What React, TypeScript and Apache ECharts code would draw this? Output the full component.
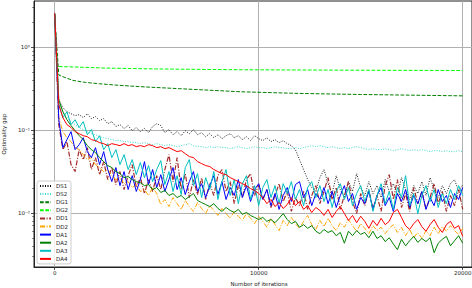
import React, { useEffect, useRef } from "react";
import * as echarts from "echarts";

// Sampling grid (iterations) for the recorded runs: every 200 iterations, 0..20000
const ITERS: number[] = Array.from({ length: 101 }, (_, i) => i * 200);

const DS1 = [
  2.5, 0.232, 0.186, 0.166, 0.157, 0.149,
  0.153, 0.141, 0.157, 0.137, 0.145,
  0.130, 0.137, 0.119, 0.126, 0.110,
  0.116, 0.104, 0.113, 0.098, 0.107,
  0.0955, 0.104, 0.0928, 0.110, 0.119,
  0.113, 0.0928, 0.101, 0.0877, 0.0955,
  0.0853, 0.098, 0.0902, 0.101, 0.0877,
  0.0928, 0.083, 0.0902, 0.0807, 0.0877,
  0.0785, 0.0853, 0.0902, 0.0807, 0.0853,
  0.0764, 0.083, 0.0743, 0.0853, 0.0785,
  0.0743, 0.0807, 0.0723, 0.0764, 0.0703,
  0.0743, 0.0684, 0.0647, 0.0579, 0.0439,
  0.0333, 0.0252, 0.0202, 0.0181, 0.0266,
  0.0333, 0.0225, 0.0171, 0.0281, 0.0191,
  0.0153, 0.0238, 0.0181, 0.0297, 0.0202,
  0.0162, 0.0238, 0.0171, 0.0213, 0.0153,
  0.0252, 0.0181, 0.0225, 0.0162, 0.0266,
  0.0191, 0.0145, 0.0213, 0.0171, 0.0238,
  0.0162, 0.0266, 0.0191, 0.0153, 0.0213,
  0.0171, 0.0225, 0.0252, 0.0181, 0.0219,
];

const DS2 = [
  2.5, 0.219, 0.166, 0.141, 0.126, 0.116,
  0.107, 0.101, 0.0955, 0.0902, 0.0877,
  0.083, 0.0807, 0.0785, 0.0764, 0.0743,
  0.0743, 0.0723, 0.0723, 0.0703, 0.0703,
  0.0684, 0.0703, 0.0684, 0.0665, 0.0684,
  0.0665, 0.0647, 0.0665, 0.0647, 0.0629,
  0.0647, 0.0665, 0.0684, 0.0647, 0.0629,
  0.0629, 0.0612, 0.0629, 0.0612, 0.0629,
  0.0612, 0.0612, 0.0595, 0.0612, 0.0629,
  0.0612, 0.0595, 0.0612, 0.0629, 0.0612,
  0.0612, 0.0595, 0.0612, 0.0629, 0.0612,
  0.0612, 0.0595, 0.0595, 0.0612, 0.0595,
  0.0612, 0.0629, 0.0647, 0.0629, 0.0647,
  0.0629, 0.0612, 0.0629, 0.0612, 0.0595,
  0.0612, 0.0595, 0.0612, 0.0629, 0.0612,
  0.0595, 0.0579, 0.0595, 0.0579, 0.0579,
  0.0595, 0.0579, 0.0563, 0.0579, 0.0595,
  0.0579, 0.0563, 0.0579, 0.0563, 0.0579,
  0.0563, 0.0548, 0.0563, 0.0563, 0.0548,
  0.0563, 0.0548, 0.0548, 0.0563, 0.0548,
];

const DG1_ITERS = [0, 200, 500, 900, 1500, 2200, 3000, 4200, 6100, 9100, 12000, 15000, 20000];
const DG1 = [2.4, 0.46, 0.43, 0.396, 0.375, 0.361, 0.348, 0.333, 0.315, 0.289, 0.276, 0.268, 0.258];

const DG2_ITERS = [0, 100, 500, 1000, 2500, 5000, 9000, 14000, 20000];
const DG2 = [2.4, 0.585, 0.58, 0.575, 0.558, 0.545, 0.533, 0.527, 0.522];

const DD1 = [
  2.6, 0.116, 0.0579, 0.0723, 0.0382, 0.0315,
  0.0579, 0.0439, 0.0612, 0.0333, 0.0464,
  0.0289, 0.0415, 0.0252, 0.0352, 0.0219,
  0.0315, 0.0191, 0.0281, 0.0382, 0.0202,
  0.0266, 0.0171, 0.0252, 0.0181, 0.0281,
  0.0191, 0.0333, 0.0504, 0.0238, 0.0464,
  0.0191, 0.0297, 0.0153, 0.0252, 0.0166,
  0.0266, 0.0145, 0.0225, 0.0162, 0.0281,
  0.0333, 0.0181, 0.0238, 0.0129, 0.0213,
  0.0153, 0.0252, 0.0297, 0.0162, 0.0219,
  0.0145, 0.0191, 0.0116, 0.0162, 0.0225,
  0.0137, 0.0181, 0.0104, 0.0153, 0.0122,
  0.0181, 0.0110, 0.0162, 0.0213, 0.0129,
  0.0181, 0.0266, 0.0145, 0.0202, 0.0110,
  0.0162, 0.0238, 0.0137, 0.0098, 0.0171,
  0.0122, 0.0191, 0.0110, 0.0162, 0.0104,
  0.0213, 0.0289, 0.0145, 0.0252, 0.0116,
  0.0171, 0.0104, 0.0202, 0.0129, 0.0181,
  0.0110, 0.0153, 0.0225, 0.0129, 0.0181,
  0.0104, 0.0162, 0.0122, 0.0191, 0.0110,
];

const DD2 = [
  2.5, 0.141, 0.0955, 0.0807, 0.0723, 0.0612,
  0.0579, 0.0504, 0.0439, 0.0464, 0.0382,
  0.0352, 0.0315, 0.0333, 0.0281, 0.0252,
  0.0266, 0.0225, 0.0238, 0.0202, 0.0219,
  0.0181, 0.0191, 0.0162, 0.0202, 0.0171,
  0.0126, 0.0145, 0.0119, 0.0153, 0.0129,
  0.0110, 0.0141, 0.0119, 0.0104, 0.0133,
  0.0113, 0.0098, 0.0122, 0.0107, 0.0093,
  0.0113, 0.0098, 0.0086, 0.0104, 0.0091,
  0.0081, 0.0098, 0.0086, 0.0074, 0.0091,
  0.0079, 0.0067, 0.0086, 0.0072, 0.0061,
  0.0081, 0.0070, 0.0088, 0.0074, 0.0065,
  0.0079, 0.0093, 0.0072, 0.0063, 0.0081,
  0.0068, 0.0086, 0.0070, 0.0061, 0.0076,
  0.0067, 0.0083, 0.0070, 0.0060, 0.0074,
  0.0065, 0.0056, 0.0070, 0.0061, 0.0067,
  0.0056, 0.0065, 0.0072, 0.0058, 0.0067,
  0.0053, 0.0063, 0.0050, 0.0058, 0.0049,
  0.0061, 0.0053, 0.0067, 0.0056, 0.0068,
  0.0060, 0.0070, 0.0061, 0.0055, 0.0065,
];

const DA1 = [
  2.5, 0.133, 0.0612, 0.0764, 0.0955, 0.0579,
  0.0665, 0.0807, 0.0548, 0.0464, 0.0612,
  0.0382, 0.0548, 0.0333, 0.0238, 0.0352,
  0.0213, 0.0315, 0.0191, 0.0281, 0.0181,
  0.0252, 0.0415, 0.0219, 0.0333, 0.0202,
  0.0289, 0.0181, 0.0252, 0.0352, 0.0191,
  0.0266, 0.0166, 0.0238, 0.0315, 0.0181,
  0.0225, 0.0153, 0.0213, 0.0281, 0.0166,
  0.0238, 0.0145, 0.0202, 0.0162, 0.0252,
  0.0153, 0.0213, 0.0137, 0.0191, 0.0225,
  0.0145, 0.0191, 0.0122, 0.0171, 0.0110,
  0.0162, 0.0202, 0.0137, 0.0219, 0.0238,
  0.0153, 0.0191, 0.0122, 0.0171, 0.0145,
  0.0202, 0.0129, 0.0181, 0.0116, 0.0162,
  0.0213, 0.0137, 0.0171, 0.0110, 0.0153,
  0.0129, 0.0181, 0.0110, 0.0162, 0.0202,
  0.0122, 0.0153, 0.0104, 0.0171, 0.0137,
  0.0191, 0.0116, 0.0162, 0.0129, 0.0181,
  0.0110, 0.0153, 0.0122, 0.0191, 0.0137,
  0.0162, 0.0116, 0.0171, 0.0145, 0.0202,
];

const DA2 = [
  2.5, 0.232, 0.166, 0.133, 0.113, 0.098,
  0.0853, 0.0764, 0.0647, 0.0579, 0.0533,
  0.0464, 0.0415, 0.0372, 0.0352, 0.0315,
  0.0297, 0.0266, 0.0274, 0.0252, 0.0238,
  0.0231, 0.0213, 0.0219, 0.0191, 0.0202,
  0.0176, 0.0186, 0.0162, 0.0171, 0.0153,
  0.0162, 0.0145, 0.0157, 0.0171, 0.0141,
  0.0133, 0.0126, 0.0119, 0.0129, 0.0113,
  0.0104, 0.0116, 0.0107, 0.0101, 0.0110,
  0.0096, 0.0101, 0.0093, 0.0088, 0.0083,
  0.0088, 0.0079, 0.0083, 0.0076, 0.0086,
  0.0098, 0.0083, 0.0074, 0.0079, 0.0067,
  0.0072, 0.0065, 0.0070, 0.0060, 0.0056,
  0.0063, 0.0058, 0.0061, 0.0053, 0.0058,
  0.0043, 0.0060, 0.0053, 0.0061, 0.0055,
  0.0058, 0.0050, 0.0060, 0.0049, 0.0053,
  0.0045, 0.0050, 0.0042, 0.0036, 0.0048,
  0.0040, 0.0046, 0.0052, 0.0044, 0.0049,
  0.0045, 0.0050, 0.0033, 0.0043, 0.0048,
  0.0052, 0.0040, 0.0046, 0.0053, 0.0043,
];

const DA3 = [
  2.5, 0.202, 0.141, 0.166, 0.116, 0.133,
  0.107, 0.126, 0.0877, 0.101, 0.0723,
  0.0853, 0.0579, 0.0684, 0.0464, 0.0579,
  0.0382, 0.0504, 0.0333, 0.0439, 0.0289,
  0.0404, 0.0266, 0.0372, 0.0238, 0.0333,
  0.0427, 0.0219, 0.0315, 0.0181, 0.0281,
  0.0166, 0.0352, 0.0439, 0.0213, 0.0297,
  0.0153, 0.0266, 0.0191, 0.0315, 0.0145,
  0.0238, 0.0333, 0.0162, 0.0252, 0.0129,
  0.0225, 0.0281, 0.0145, 0.0213, 0.0122,
  0.0202, 0.0252, 0.0153, 0.0213, 0.0129,
  0.0225, 0.0171, 0.0238, 0.0145, 0.0191,
  0.0122, 0.0202, 0.0238, 0.0153, 0.0213,
  0.0137, 0.0191, 0.0116, 0.0181, 0.0225,
  0.0145, 0.0202, 0.0122, 0.0171, 0.0213,
  0.0137, 0.0191, 0.0104, 0.0162, 0.0225,
  0.0129, 0.0181, 0.0110, 0.0202, 0.0153,
  0.0281, 0.0122, 0.0171, 0.0098, 0.0162,
  0.0213, 0.0137, 0.0191, 0.0116, 0.0171,
  0.0129, 0.0191, 0.0145, 0.0213, 0.0162,
];

const DA4 = [
  2.5, 0.202, 0.141, 0.116, 0.107, 0.0955,
  0.0902, 0.0853, 0.083, 0.0764, 0.0743,
  0.0703, 0.0684, 0.0647, 0.0684, 0.0665,
  0.0647, 0.0684, 0.0647, 0.0665, 0.0629,
  0.0647, 0.0629, 0.0665, 0.0647, 0.0612,
  0.0629, 0.0595, 0.0612, 0.0579, 0.0548,
  0.0563, 0.0518, 0.0477, 0.0464, 0.0415,
  0.0393, 0.0372, 0.0362, 0.0333, 0.0315,
  0.0297, 0.0289, 0.0266, 0.0252, 0.0238,
  0.0225, 0.0213, 0.0196, 0.0186, 0.0171,
  0.0153, 0.0129, 0.0145, 0.0119, 0.0133,
  0.0113, 0.0126, 0.0153, 0.0122, 0.0137,
  0.0110, 0.0122, 0.0101, 0.0116, 0.0107,
  0.0093, 0.0110, 0.0088, 0.0104, 0.0119,
  0.0098, 0.0081, 0.0093, 0.0076, 0.0091,
  0.0079, 0.0065, 0.0081, 0.0070, 0.0086,
  0.0072, 0.0079, 0.0101, 0.0110, 0.0088,
  0.0070, 0.0063, 0.0074, 0.0083, 0.0068,
  0.0060, 0.0072, 0.0083, 0.0067, 0.0058,
  0.0072, 0.0079, 0.0065, 0.0070, 0.0052,
];

const X_TICKS = [0, 10000, 20000];
const Y_TICKS = [0.01, 0.1, 1];
const Y_TICK_LABELS = ["10\u207B\u00B2", "10\u207B\u00B9", "10\u2070"];
const Y_MINOR = [
  0.003, 0.004, 0.005, 0.006, 0.007, 0.008, 0.009,
  0.02, 0.03, 0.04, 0.05, 0.06, 0.07, 0.08, 0.09,
  0.2, 0.3, 0.4, 0.5, 0.6, 0.7, 0.8, 0.9, 2, 3,
];

const FONT = "DejaVu Sans";
const DOTTED = [1, 1.5];
const DASHED = [3.7, 1.6];
const DASHDOT = [5, 1.6, 1, 1.6];

export default function App() {
  const ref = useRef<HTMLDivElement>(null);

  useEffect(() => {
    if (!ref.current) return;
    const chart = echarts.init(ref.current, null, { renderer: "svg" });

    const mk = (name: string, xs: number[], ys: number[], color: string, dash: any, width = 1) => ({
      name,
      type: "line",
      data: xs.map((x, i) => [x, ys[i]]),
      symbol: "none",
      showSymbol: false,
      lineStyle: { color, width, type: dash },
      itemStyle: { color, opacity: 0 },
      emphasis: { disabled: true },
    });

    const yMin = 0.00222;
    const yMax = 3.6;

    chart.setOption({
      animation: false,
      backgroundColor: "#ffffff",
      grid: {
        left: 34,
        right: 0,
        top: 1,
        bottom: 21,
        show: true,
        borderColor: "#222222",
        borderWidth: 1,
        backgroundColor: "transparent",
        containLabel: false,
        outerBoundsMode: "none",
      },
      legend: {
        orient: "vertical",
        left: 37,
        top: 181,
        itemWidth: 11,
        itemHeight: 6,
        itemGap: 2.1,
        padding: [2, 3, 2, 2],
        backgroundColor: "rgba(255,255,255,0.8)",
        borderColor: "#cccccc",
        borderWidth: 1,
        borderRadius: 2,
        itemStyle: { opacity: 0 },
        textStyle: { fontSize: 5.5, fontFamily: FONT, color: "#222222", lineHeight: 6 },
        data: ["DS1", "DS2", "DG1", "DG2", "DD1", "DD2", "DA1", "DA2", "DA3", "DA4"],
      },
      xAxis: [
        {
          type: "value",
          min: -1015,
          max: 20456,
          axisLine: { show: true, onZero: false, lineStyle: { color: "#222222", width: 1 } },
          axisTick: { show: true, length: 3, customValues: X_TICKS, lineStyle: { color: "#222222", width: 0.8 } },
          axisLabel: {
            customValues: X_TICKS,
            fontSize: 5.5,
            fontFamily: FONT,
            color: "#222222",
            margin: 3,
            formatter: (v: number) => String(Math.round(v)),
          },
          splitLine: { show: true, lineStyle: { color: "#b0b0b0", width: 1 } },
          name: "Number of iterations",
          nameLocation: "middle",
          nameGap: 11,
          nameTextStyle: { fontSize: 5.5, fontFamily: FONT, color: "#222222", padding: [0, 0, 0, 12] },
        },
      ],
      yAxis: [
        {
          type: "log",
          logBase: 10,
          min: yMin,
          max: yMax,
          position: "left",
          axisLine: { show: true, onZero: false, lineStyle: { color: "#222222", width: 1 } },
          axisTick: { show: true, length: 3, customValues: Y_TICKS, lineStyle: { color: "#222222", width: 0.8 } },
          axisLabel: {
            customValues: Y_TICKS,
            fontSize: 5.5,
            fontFamily: FONT,
            color: "#222222",
            margin: 4,
            formatter: (v: number) => {
              let best = 0;
              let bd = Infinity;
              Y_TICKS.forEach((t, i) => {
                const d = Math.abs(Math.log10(v) - Math.log10(t));
                if (d < bd) { bd = d; best = i; }
              });
              return Y_TICK_LABELS[best];
            },
          },
          splitLine: { show: true, lineStyle: { color: "#b0b0b0", width: 1 } },
          minorTick: { show: false },
          name: "Optimality gap",
          nameLocation: "middle",
          nameGap: 18,
          nameRotate: 90,
          nameTextStyle: { fontSize: 5.5, fontFamily: FONT, color: "#222222" },
        },
        {
          type: "log",
          logBase: 10,
          min: yMin,
          max: yMax,
          position: "left",
          offset: 0,
          axisLine: { show: false, onZero: false },
          axisLabel: { show: false },
          splitLine: { show: false },
          axisTick: { show: true, length: 1.8, customValues: Y_MINOR, lineStyle: { color: "#222222", width: 0.6 } },
        },
      ],
      series: [
        mk("DS1", ITERS, DS1, "#000000", DOTTED, 0.9),
        mk("DS2", ITERS, DS2, "#40d8d0", DOTTED, 1),
        mk("DG1", DG1_ITERS, DG1, "#008000", DASHED, 1),
        mk("DG2", DG2_ITERS, DG2, "#00ff00", DASHED, 1),
        mk("DD1", ITERS, DD1, "#a52a2a", DASHDOT, 1.2),
        mk("DD2", ITERS, DD2, "#ffa500", DASHDOT, 1),
        mk("DA1", ITERS, DA1, "#0000ff", "solid", 1),
        mk("DA2", ITERS, DA2, "#008000", "solid", 1),
        mk("DA3", ITERS, DA3, "#00bfbf", "solid", 1),
        mk("DA4", ITERS, DA4, "#ff0000", "solid", 1),
      ],
    });

    return () => chart.dispose();
  }, []);

  return (
    <div
      ref={ref}
      style={{ position: "fixed", left: 0, top: 0, width: 472, height: 288 }}
    />
  );
}
